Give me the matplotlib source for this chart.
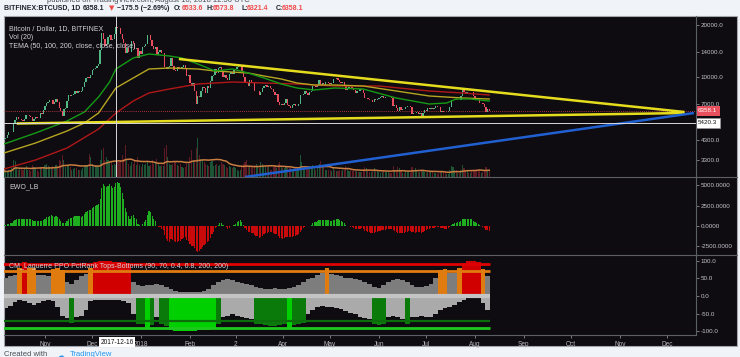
import numpy as np
import pandas as pd
import matplotlib
matplotlib.use("Agg")
import matplotlib.pyplot as plt
import matplotlib.dates as mdates
import matplotlib.transforms as mtransforms
from matplotlib.patches import Rectangle
from matplotlib.lines import Line2D
from matplotlib.ticker import NullLocator

plt.rcParams['font.family'] = ['Liberation Sans', 'DejaVu Sans']

# ---- daily closes, BITFINEX BTCUSD, 2017-09-01 .. 2018-08-10 ----
c_sep = [4892, 4578, 4582, 4236, 4376, 4597, 4599, 4229, 4226, 4122,
         4161, 4130, 3882, 3154, 3637, 3625, 3582, 4065, 3925, 3905,
         3631, 3630, 3792, 3682, 3926, 3892, 4200, 4174, 4163, 4338]
c_oct = [4403, 4409, 4317, 4229, 4328, 4370, 4426, 4611, 4772, 4781,
         4826, 5446, 5647, 5831, 5678, 5725, 5605, 5590, 5708, 6011,
         6031, 5982, 5904, 5527, 5750, 5904, 5780, 5753, 6154, 6130, 6468]
c_nov = [6767, 7079, 7207, 7379, 7407, 7022, 7144, 7459, 7143, 6618,
         6357, 5950, 6559, 6635, 7301, 7815, 7786, 7817, 8007, 8255,
         8059, 8268, 8148, 8250, 8753, 9330, 9818, 10058, 9888, 10233]
c_dec = [10975, 11074, 11323, 11657, 11916, 14291, 17899, 16570, 15178, 15455,
         16936, 17415, 16408, 16564, 17706, 19497, 19140, 19114, 17776, 16624,
         15802, 13831, 14699, 13926, 14027, 16099, 15838, 14606, 14656, 12952, 14156]
c_jan = [13657, 14982, 15201, 15599, 17429, 17527, 16477, 15170, 14595, 14973,
         13405, 13980, 14360, 13772, 13819, 11490, 11188, 11474, 11607, 12899,
         11600, 10931, 10868, 11359, 11259, 11171, 11440, 11786, 11296, 10106, 10221]
c_feb = [9170, 8830, 9174, 8277, 6955, 7754, 7621, 8265, 8736, 8621,
         8129, 8926, 8598, 9494, 10166, 10233, 11112, 10551, 11225, 11403,
         10690, 10005, 10301, 9813, 9664, 10366, 10725, 10397]
c_mar = [10951, 11086, 11489, 11512, 11573, 10779, 9965, 9395, 9337, 8866,
         9578, 9205, 9194, 8269, 8300, 8338, 7916, 8223, 8630, 8913,
         8929, 8728, 8879, 8668, 8495, 8209, 7833, 7954, 7165, 6890, 6973]
c_apr = [6844, 7083, 7456, 6853, 6811, 6636, 6911, 7023, 6770, 6834,
         6968, 7889, 7895, 7986, 8329, 8058, 7902, 8163, 8294, 8845,
         8895, 8802, 8931, 9652, 8865, 9280, 8988, 9345, 9398, 9240]
c_may = [9120, 9235, 9744, 9700, 9859, 9654, 9373, 9234, 9325, 9044,
         8441, 8505, 8723, 8716, 8510, 8368, 8094, 8250, 8247, 8513,
         8397, 8040, 7557, 7587, 7480, 7355, 7368, 7135, 7472, 7406, 7494]
c_jun = [7541, 7643, 7720, 7514, 7633, 7653, 7678, 7624, 7531, 6786,
         6906, 6582, 6349, 6675, 6457, 6550, 6499, 6734, 6769, 6776,
         6729, 6083, 6162, 6174, 6250, 6093, 6157, 5903, 6218, 6404]
c_jul = [6385, 6614, 6530, 6598, 6548, 6605, 6757, 6712, 6664, 6310,
         6386, 6249, 6239, 6276, 6359, 6742, 7322, 7385, 7478, 7330,
         7408, 7399, 7726, 8424, 8182, 7938, 8226, 8216, 8219, 8181, 7735]
c_aug = [7604, 7534, 7414, 7032, 7068, 6952, 6720, 6283, 6533.6, 6358.1]

# daily volume (thousand BTC), 2017-10-06 .. 2018-08-10
v_oct = [22, 25, 20, 30, 28, 35, 70, 65, 40, 30, 35, 38, 30, 32, 45, 30,
         28, 25, 50, 40, 35, 28, 22, 40, 35, 42]
v_nov = [50, 55, 45, 40, 35, 45, 40, 50, 45, 70, 65, 90, 70, 40, 45, 50,
         40, 30, 32, 35, 35, 30, 30, 28, 35, 45, 50, 50, 95, 80]
v_dec = [55, 40, 50, 45, 40, 70, 110, 120, 70, 80, 70, 65, 60, 50, 55, 50,
         65, 60, 70, 90, 75, 130, 70, 55, 45, 60, 55, 65, 50, 80, 50]
v_jan = [40, 55, 50, 55, 60, 45, 50, 70, 55, 60, 75, 55, 45, 50, 45, 120,
         130, 80, 55, 50, 55, 60, 60, 50, 45, 55, 40, 35, 40, 60, 55]
v_feb = [80, 110, 70, 70, 120, 160, 90, 75, 70, 60, 55, 50, 45, 60, 65, 45,
         50, 55, 45, 50, 60, 55, 50, 40, 35, 45, 40, 35]
v_mar = [40, 35, 30, 25, 30, 45, 55, 60, 70, 40, 45, 45, 40, 50, 55, 40,
         35, 60, 55, 45, 40, 45, 40, 30, 28, 40, 45, 35, 55, 60, 40]
v_apr = [35, 35, 40, 40, 35, 35, 30, 25, 35, 30, 35, 90, 60, 35, 35, 40,
         35, 35, 40, 50, 40, 30, 35, 55, 65, 45, 40, 30, 30, 30]
v_may = [30, 25, 35, 30, 25, 25, 30, 25, 30, 30, 45, 35, 25, 30, 25, 30,
         25, 25, 20, 20, 20, 25, 40, 35, 25, 20, 20, 30, 35, 25, 25]
v_jun = [20, 18, 20, 25, 22, 22, 20, 18, 15, 45, 30, 30, 40, 35, 25, 18,
         15, 25, 20, 20, 18, 40, 25, 35, 25, 22, 22, 25, 30, 20]
v_jul = [15, 22, 22, 20, 20, 18, 15, 12, 15, 25, 20, 20, 18, 12, 12, 30,
         45, 40, 30, 28, 18, 15, 30, 50, 35, 30, 30, 15, 15, 25, 30]
v_aug = [28, 25, 30, 30, 15, 22, 30, 40, 30, 30]

# TEMA (50, 100, 200)
tema50_dates = ["2017-10-06", "2017-10-26", "2017-11-15", "2017-11-26", "2017-12-05",
                "2017-12-12", "2017-12-16", "2017-12-27", "2018-01-06", "2018-01-19",
                "2018-01-27", "2018-02-06", "2018-02-17", "2018-02-28", "2018-03-10",
                "2018-03-20", "2018-03-31", "2018-04-10", "2018-04-21", "2018-05-04",
                "2018-05-22", "2018-06-12", "2018-07-03", "2018-07-14", "2018-07-20",
                "2018-07-29", "2018-08-10"]
tema50 = [4093, 4739, 5562, 6271, 7659, 9355, 11126, 12883, 13589, 13231,
          12883, 11893, 10833, 11126, 10548, 9868, 9109, 8636, 8409, 8636,
          8521, 7558, 6977, 7071, 7458, 7458, 7261]
tema100_dates = ["2017-10-06", "2017-10-26", "2017-11-15", "2017-11-26", "2017-12-05",
                 "2017-12-16", "2017-12-27", "2018-01-06", "2018-01-19", "2018-02-06",
                 "2018-02-17", "2018-03-10", "2018-03-20", "2018-03-31", "2018-04-10",
                 "2018-04-21", "2018-05-04", "2018-05-22", "2018-06-12", "2018-07-03",
                 "2018-07-24", "2018-08-10"]
tema100 = [3630, 4148, 4868, 5416, 6188, 8636, 9868, 11126, 11275, 11126,
           10833, 10548, 10134, 9737, 9231, 8988, 8988, 8869, 8297, 7762,
           7558, 7458]
tema200_dates = ["2017-10-06", "2017-10-26", "2017-11-15", "2017-12-05", "2017-12-16",
                 "2017-12-27", "2018-01-06", "2018-01-19", "2018-02-06", "2018-02-28",
                 "2018-03-20", "2018-04-10", "2018-05-04", "2018-06-01", "2018-07-03",
                 "2018-07-24", "2018-08-10"]
tema200 = [2933, 3307, 3880, 4999, 6188, 7261, 8079, 8521, 9109, 9355,
           9231, 9109, 8869, 8869, 8297, 8079, 7866]

# drawn trend lines (start, end)
upper_dates, upper_prices = ["2018-01-25", "2018-12-12"], [12712, 6271]
lower_dates, lower_prices = ["2017-10-14", "2018-12-12"], [5379, 6188]
blue_dates, blue_prices = ["2018-03-08", "2018-12-18"], [2636, 6188]

last_price = 6358.1
cross_price = 5420.3
cross_date = "2017-12-16"

# CM_Laguerre PPO PctRank, one value per 3 days from 2017-10-06
lag_top = [50, 55, 60, 78, 95, 80, 78, 60, 58, 55,
           75, 78, 72, 40, 35, 45, 55, 62, 80, 96,
           98, 99, 98, 97, 96, 95, 92, 40, 30, 28,
           30, 32, 35, 30, 25, 20, 15, 12, 10, 10,
           12, 12, 15, 20, 30, 40, 45, 48, 45, 40,
           38, 35, 30, 25, 22, 20, 20, 22, 20, 20,
           22, 25, 30, 40, 48, 52, 58, 65, 78, 62,
           58, 55, 52, 50, 48, 45, 40, 35, 25, 22,
           30, 40, 45, 48, 45, 40, 30, 25, 25, 28,
           35, 50, 72, 75, 65, 66, 80, 92, 98, 100,
           95, 75, 55]
lag_bot = [-35, -28, -18, -12, -15, -20, -25, -20, -15, -12,
           -14, -30, -55, -62, -75, -60, -55, -40, -15, -10,
           -10, -10, -10, -12, -12, -15, -20, -50, -78, -80,
           -92, -82, -60, -80, -85, -95, -98, -100, -100, -100,
           -98, -97, -96, -95, -92, -80, -60, -55, -50, -55,
           -60, -62, -65, -78, -80, -83, -85, -85, -82, -80,
           -92, -82, -80, -75, -50, -40, -30, -27, -30, -32,
           -35, -38, -42, -48, -52, -58, -62, -65, -80, -82,
           -78, -60, -55, -58, -65, -80, -60, -58, -55, -58,
           -60, -50, -40, -35, -30, -25, -18, -10, -5, -3,
           -2, -20, -40]

price_ticks = [3300, 4300, 7000, 10000, 14000, 20000]
ewo_ticks = [5000, 2500, 0, -2500]
ewo_labels = ["5000.0000", "2500.0000", "0.0000", "-2500.0000"]
lag_ticks = [100, 50, 0, -50, -100]
time_ticks = ["2017-11-01", "2017-12-01", "2018-01-01", "2018-02-01", "2018-03-02",
              "2018-04-01", "2018-05-01", "2018-06-01", "2018-07-01", "2018-08-01",
              "2018-09-01", "2018-10-01", "2018-11-01", "2018-12-01"]
time_labels = ["Nov", "Dec", "2018", "Feb", "2", "Apr", "May", "Jun", "Jul", "Aug",
               "Sep", "Oct", "Nov", "Dec"]

# ------------------------------------------------------------------
W, H = 740, 357
BG = '#0e0b11'
UP, DN = '#53b987', '#eb4d5c'


def fx(px):
    return px / W


def fy(py):
    return 1 - py / H


def box(x0, y0, x1, y1):
    return [x0 / W, 1 - y1 / H, (x1 - x0) / W, (y1 - y0) / H]


def dn(s):
    return mdates.date2num(pd.Timestamp(s))


def ema(v, n):
    a = 2.0 / (n + 1)
    out = np.empty(len(v))
    out[0] = v[0]
    for i in range(1, len(v)):
        out[i] = a * v[i] + (1 - a) * out[i - 1]
    return out


closes = np.array(c_sep + c_oct + c_nov + c_dec + c_jan + c_feb + c_mar +
                  c_apr + c_may + c_jun + c_jul + c_aug, dtype=float)
dates = pd.date_range("2017-09-01", periods=len(closes), freq="D")
x = mdates.date2num(dates)
opens = np.concatenate([[closes[0]], closes[:-1]])
up = closes >= opens

vol = np.array(v_oct + v_nov + v_dec + v_jan + v_feb + v_mar + v_apr +
               v_may + v_jun + v_jul + v_aug, dtype=float)
xv = x[-len(vol):]
upv = up[-len(vol):]
vol_ma = pd.Series(vol).rolling(20, min_periods=1).mean().values

# EWO_LB: fast minus slow EMA of close
ewo = ema(closes, 5) - ema(closes, 35)

nov1 = dn("2017-11-01")
xlim = (nov1 - 26.03, nov1 + 413.3)
data_end = x[-1] + 0.5

fig = plt.figure(figsize=(W / 100, H / 100), dpi=100, facecolor='#f0f3f7')
fig.add_artist(Rectangle((fx(4), fy(346)), (737 - 4) / W, 330 / H,
                         transform=fig.transFigure, facecolor=BG,
                         edgecolor='#a3a6ad', linewidth=0.8, zorder=-10))

vol_ax = fig.add_axes(box(4, 16, 696, 177))
ax = fig.add_axes(box(4, 16, 696, 177))
ewo_ax = fig.add_axes(box(4, 177, 696, 255))
lag_ax = fig.add_axes(box(4, 255, 696, 335))

for a in (vol_ax, ax, ewo_ax, lag_ax):
    a.set_facecolor('none')
    for s in a.spines.values():
        s.set_visible(False)
    a.set_xlim(*xlim)
    a.tick_params(axis='x', which='both', bottom=False, labelbottom=False)
    a.tick_params(axis='y', which='both', left=False, labelleft=False,
                  right=True, labelright=True, colors='#8a8d94',
                  labelcolor='#c4c6cc', length=2, width=0.6, pad=1.5,
                  labelsize=4.5)

# volume
vol_ax.bar(xv, vol, width=0.7, color=np.where(upv, '#1d5436', '#5e1b24'),
           linewidth=0)
vol_ax.plot(xv, vol_ma, color='#c97d40', lw=1.1)
vol_ax.set_ylim(0, 660)
vol_ax.set_yticks([])
vol_ax.tick_params(axis='y', right=False, labelright=False)

# price panel
ax.set_yscale('log')
ax.set_ylim(2636, 22554)
ax.set_yticks(price_ticks)
ax.set_yticklabels([f"{p:.1f}" for p in price_ticks])
ax.yaxis.set_minor_locator(NullLocator())

for dts, vals, col in ((tema200_dates, tema200, '#b01818'),
                       (tema100_dates, tema100, '#b5a520'),
                       (tema50_dates, tema50, '#159a15')):
    ax.plot([dn(d) for d in dts], vals, color=col, lw=1.0)

ax.axhline(last_price, color='#d9414f', lw=0.6, ls=(0, (1, 1.5)))

ax.bar(x[up], (closes - opens)[up], bottom=opens[up], width=0.85, color=UP,
       linewidth=0)
ax.bar(x[~up], (opens - closes)[~up], bottom=closes[~up], width=0.85,
       color=DN, linewidth=0)

for dts, vals, col in ((upper_dates, upper_prices, '#e6dc1e'),
                       (lower_dates, lower_prices, '#e6dc1e'),
                       (blue_dates, blue_prices, '#2060d0')):
    ax.plot([dn(d) for d in dts], vals, color=col, lw=1.8,
            solid_capstyle='butt')

ax.axvline(dn(cross_date), color='#d8d8d8', lw=0.7)
ax.axhline(cross_price, color='#d8d8d8', lw=0.7)

yx = mtransforms.blended_transform_factory(ax.transAxes, ax.transData)
ax.text(1.003, last_price, f"{last_price:.1f}", transform=yx, fontsize=4.5,
        color='white', va='center', ha='left', clip_on=False,
        bbox=dict(boxstyle='square,pad=0.35', fc='#e8505e', ec='none'))
ax.text(1.003, cross_price, f"{cross_price:.1f}", transform=yx, fontsize=4.5,
        color='#111111', va='center', ha='left', clip_on=False,
        bbox=dict(boxstyle='square,pad=0.35', fc='white', ec='#999999', lw=0.5))

# EWO panel
ewo_ax.bar(x, ewo, width=0.75, color=np.where(ewo > 0, '#1fae1f', '#c80a0a'),
           linewidth=0)
ewo_ax.set_ylim(-3537, 5976)
ewo_ax.set_yticks(ewo_ticks)
ewo_ax.set_yticklabels(ewo_labels)

# Laguerre PctRank panel
k = np.arange(len(lag_top))
left = dn("2017-10-06") - 0.5 + 3 * k
widths = np.minimum(3.0, data_end - left)
top = np.array(lag_top, dtype=float)
bot = np.array(lag_bot, dtype=float)
col_t = np.where(top >= 90, '#d10000', np.where(top >= 70, '#e07b10', '#7d7d7d'))
col_b = np.where(bot <= -90, '#00d000', np.where(bot <= -70, '#0a7a0a', '#aaaaaa'))
lag_ax.bar(left, top, width=widths, align='edge', color=col_t, linewidth=0)
lag_ax.bar(left, bot, width=widths, align='edge', color=col_b, linewidth=0)
x0 = dn("2017-10-06") - 0.5
for lvl, col, lw in ((90, '#e00000', 2.0), (70, '#e07b10', 2.0),
                     (0, '#c4c4c4', 3.0), (-70, '#0b6e0b', 1.6),
                     (-90, '#1ec81e', 2.0)):
    lag_ax.plot([x0, data_end], [lvl, lvl], color=col, lw=lw,
                solid_capstyle='butt')
lag_ax.set_ylim(-109.9, 115.5)
lag_ax.set_yticks(lag_ticks)
lag_ax.set_yticklabels([f"{t:.1f}" for t in lag_ticks])
lag_ax.set_xticks([dn(d) for d in time_ticks])
lag_ax.set_xticklabels(time_labels)
lag_ax.tick_params(axis='x', bottom=True, labelbottom=True, colors='#8a8d94',
                   labelcolor='#b8bac0', length=2, width=0.6, pad=2,
                   labelsize=4.7)

# separators
for yy in (177, 255):
    fig.add_artist(Line2D([fx(4), fx(737)], [fy(yy)] * 2, color='#5c5f66',
                          lw=0.8, transform=fig.transFigure))
fig.add_artist(Line2D([fx(4), fx(696)], [fy(335)] * 2, color='#5c5f66',
                      lw=0.8, transform=fig.transFigure))
fig.add_artist(Line2D([fx(696)] * 2, [fy(16), fy(335)], color='#5c5f66',
                      lw=0.8, transform=fig.transFigure))

# pane captions
cap = dict(fontsize=5, color='#d2d4d8', va='center', ha='left')
fig.text(fx(9), fy(28.5), "Bitcoin / Dollar, 1D, BITFINEX", **cap)
fig.text(fx(9), fy(37.5), "Vol (20)", **cap)
fig.text(fx(9), fy(47), "TEMA (50, 100, 200, close, close, close)", **cap)
fig.text(fx(9), fy(187), "EWO_LB", **cap)
fig.text(fx(9), fy(266), "CM_Laguerre PPO PctRank Tops-Bottoms (90, 70, 0.4, 0.8, 200, 200)", **cap)

fig.text(fx(117), fy(342), cross_date, fontsize=4.7, color='#111111',
         ha='center', va='center', zorder=5,
         bbox=dict(boxstyle='square,pad=0.2', fc='white', ec='none'))

# header
fig.text(fx(47), fy(0.5), "published on TradingView.com, August 10, 2018 12:56 UTC",
         fontsize=5.5, color='#4a4e57', va='center', ha='left')
hdr = dict(fontsize=5, fontweight='bold', va='center', ha='left')
dark, red = '#1e222d', '#ef4a4a'
pieces = [(4, "BITFINEX:BTCUSD, 1D", dark), (83, "6358.1", dark),
          (108.5, "\u25bc", red), (117, "\u2212175.5 (\u22122.69%)", dark),
          (174, "O:", dark), (182, "6533.6", red), (207, "H:", dark),
          (213, "6573.8", red), (242, "L:", dark), (247, "6321.4", red),
          (276, "C:", dark), (282, "6358.1", red)]
for px, s, col in pieces:
    fam = ['DejaVu Sans'] if s == "\u25bc" else ['Liberation Sans', 'DejaVu Sans']
    fig.text(fx(px), fy(8), s, color=col, family=fam, **hdr)

# footer
fig.text(fx(4), fy(351.5), "Created with", fontsize=5.5, color='#4a4e57',
         va='top', ha='left')
fig.text(fx(55), fy(350.5), "\u2601", fontsize=7, color='#2196f3',
         va='top', ha='left', family=['DejaVu Sans'])
fig.text(fx(70), fy(351.5), "TradingView", fontsize=5.5, color='#2196f3',
         va='top', ha='left')

fig.savefig("out.png", dpi=100, facecolor=fig.get_facecolor())
